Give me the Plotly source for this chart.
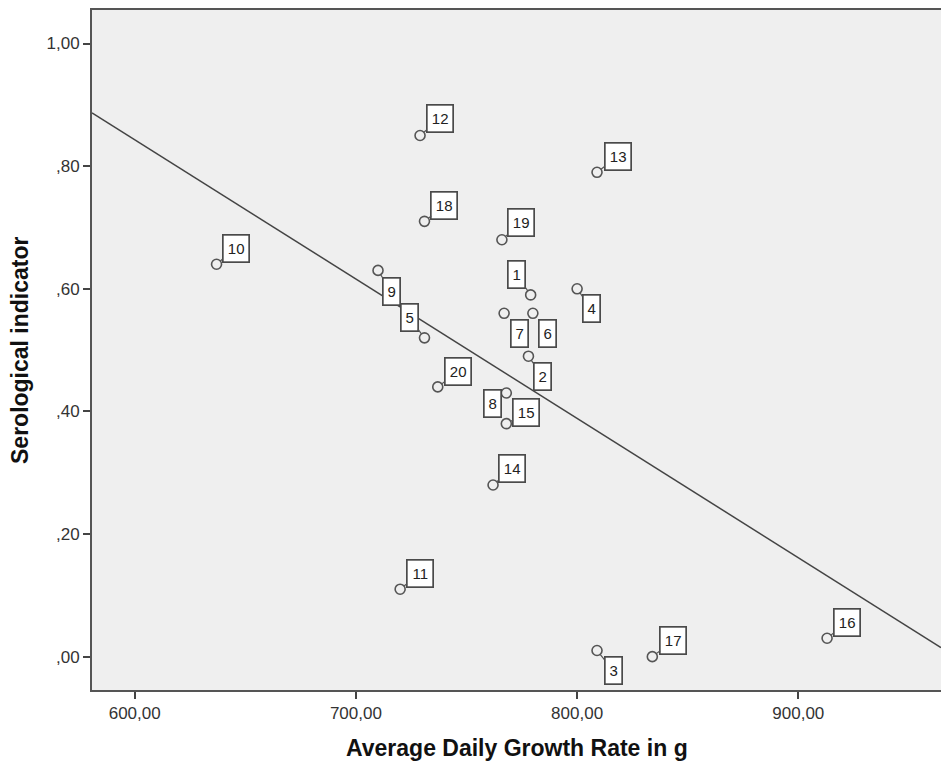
import numpy as np
import plotly.graph_objects as go

# ---- data ----
case_ids = [str(i) for i in range(1, 21)]
growth_rate = [779, 778, 809, 800, 731, 780, 767, 768, 710, 637,
               720, 729, 809, 762, 768, 913, 834, 731, 766, 737]
serological = [0.59, 0.49, 0.01, 0.60, 0.52, 0.56, 0.56, 0.43, 0.63, 0.64,
               0.11, 0.85, 0.79, 0.28, 0.38, 0.03, 0.00, 0.71, 0.68, 0.44]

x_tick_vals = [600, 700, 800, 900]
x_tick_text = ["600,00", "700,00", "800,00", "900,00"]
y_tick_vals = [0.0, 0.2, 0.4, 0.6, 0.8, 1.0]
y_tick_text = [",00", ",20", ",40", ",60", ",80", "1,00"]

x_title = "Average Daily Growth Rate in g"
y_title = "Serological indicator"

# ---- layout / styling (not data) ----
x_range = [580.7, 964.5]
y_range = [-0.0544, 1.0547]
FONT = "Liberation Sans, Arial, sans-serif"
# label box offsets in pixels (box centre relative to point), per case
label_offsets = {
    "1": (-14, -20), "2": (14, 20), "3": (16, 20), "4": (14, 20),
    "5": (-15, -20), "6": (15, 20), "7": (15, 20), "8": (-14, 10),
    "9": (13, 21), "10": (19, -16), "11": (20, -16), "12": (20, -17),
    "13": (21, -16), "14": (19, -16), "15": (20, -11), "16": (20, -16),
    "17": (21, -16), "18": (20, -16), "19": (19, -17), "20": (20, -15),
}

slope, intercept = np.polyfit(growth_rate, serological, 1)
line_x = np.array(x_range)
line_y = slope * line_x + intercept

fig = go.Figure()
fig.add_trace(go.Scatter(
    x=line_x, y=line_y, mode="lines",
    line=dict(color="#444444", width=1.5),
    hoverinfo="skip", showlegend=False,
))
fig.add_trace(go.Scatter(
    x=growth_rate, y=serological, mode="markers",
    marker=dict(symbol="circle-open", size=10, color="#555555",
                line=dict(width=1.6)),
    showlegend=False,
))

annotations = []
for cid, xv, yv in zip(case_ids, growth_rate, serological):
    ax, ay = label_offsets[cid]
    w = 23 if len(cid) == 2 else 14
    annotations.append(dict(
        x=xv, y=yv, xref="x", yref="y", text=cid,
        showarrow=True, arrowhead=0, arrowwidth=1.2, arrowcolor="#555555",
        ax=ax, ay=ay, standoff=5,
        bgcolor="white", bordercolor="#4a4a4a", borderwidth=1.7, borderpad=1,
        width=w, height=24,
        font=dict(family=FONT, size=15, color="#222222"),
    ))

# axis titles as paper-anchored annotations
annotations.append(dict(
    text=x_title, xref="paper", yref="paper", x=0.5, y=0,
    xanchor="center", yanchor="middle", yshift=-58, showarrow=False,
    font=dict(family=FONT, size=23, color="#111111", weight="bold"),
))
annotations.append(dict(
    text=y_title, xref="paper", yref="paper", x=0, y=0.5,
    xanchor="center", yanchor="middle", xshift=-72, textangle=-90, showarrow=False,
    font=dict(family=FONT, size=23, color="#111111", weight="bold"),
))

fig.update_layout(
    width=941, height=764,
    margin=dict(l=92, r=0, t=10, b=74, autoexpand=False),
    paper_bgcolor="white",
    plot_bgcolor="#EFEFEF",
    font=dict(family=FONT, color="#333333"),
    annotations=annotations,
)
common_axis = dict(
    ticks="outside", ticklen=7, tickwidth=2, tickcolor="#444444",
    tickfont=dict(size=17, color="#333333"),
    showgrid=False, zeroline=False, automargin=False,
    showline=True, linecolor="#555555", linewidth=2, mirror=True,
)
fig.update_xaxes(range=x_range, tickvals=x_tick_vals, ticktext=x_tick_text, **common_axis)
fig.update_yaxes(range=y_range, tickvals=y_tick_vals, ticktext=y_tick_text, **common_axis)

fig.write_html(
    "out.html",
    config={"displayModeBar": False},
    post_script="document.body.style.margin='0';document.body.style.overflow='hidden';",
)
